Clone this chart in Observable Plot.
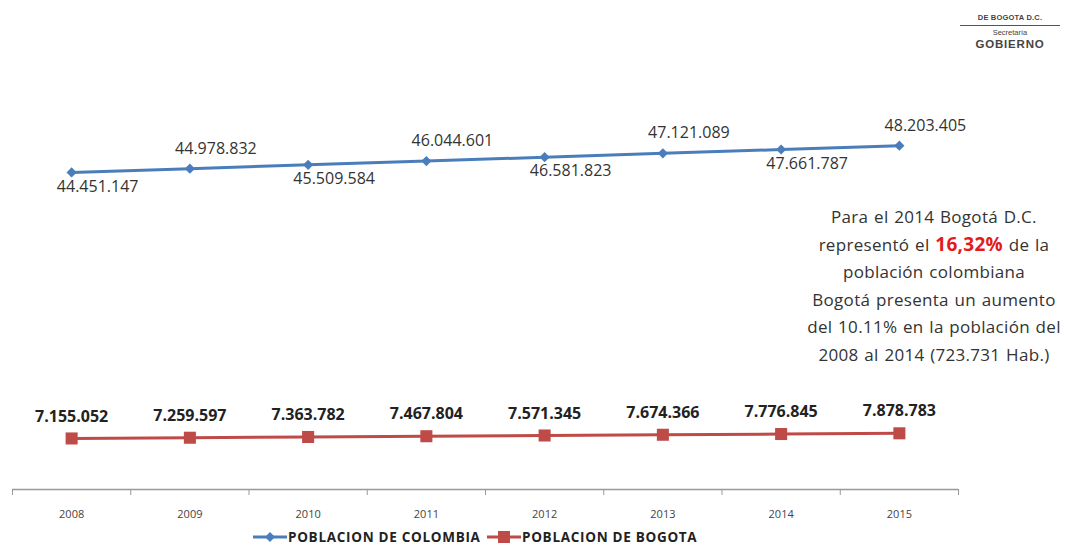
<!DOCTYPE html>
<html><head><meta charset="utf-8">
<script src="https://cdn.jsdelivr.net/npm/d3@7"></script>
<script src="https://cdn.jsdelivr.net/npm/@observablehq/plot@0.6"></script>
<style>
body{margin:0;background:#fff;font-family:Lato,"Open Sans",sans-serif;}
#wrap{position:relative;width:1065px;height:545px;overflow:hidden;}
#logo{position:absolute;left:958px;top:13px;width:104px;text-align:center;color:#444;font-family:"Liberation Sans",sans-serif;}
#note{position:absolute;left:784px;top:203px;width:300px;text-align:center;color:#333;font-size:17px;line-height:27.6px;letter-spacing:0.3px;word-spacing:1px;font-family:"Open Sans",sans-serif;}
#legend{position:absolute;left:0;top:528px;width:1065px;height:17px;font-family:"Open Sans",sans-serif;font-weight:bold;font-size:13.5px;color:#222;letter-spacing:0.7px;}
.lg{position:absolute;top:0;display:flex;align-items:center;white-space:nowrap;}
</style></head><body>
<div id="wrap">
<div id="chart"></div>
<div id="logo">
<div style="font-size:7.5px;font-weight:bold;letter-spacing:0.2px;">DE BOGOTA D.C.</div>
<div style="border-top:1.5px solid #555;margin:3px 2px 2px 2px;"></div>
<div style="font-size:7.5px;">Secretaría</div>
<div style="font-size:11.5px;font-weight:bold;letter-spacing:0.8px;margin-top:1px;">GOBIERNO</div>
</div>
<div id="note">Para el 2014 Bogotá D.C.<br>representó el <span style="color:#e31b1b;font-weight:bold;font-size:19px;">16,32%</span> de la<br>población colombiana<br>Bogotá presenta un aumento<br>del 10.11% en la población del<br>2008 al 2014 (723.731 Hab.)</div>
<div id="legend"></div>
</div>
<script>
const years = [2008, 2009, 2010, 2011, 2012, 2013, 2014, 2015];
const colombia = [44451147, 44978832, 45509584, 46044601, 46581823, 47121089, 47661787, 48203405];
const bogota = [7155052, 7259597, 7363782, 7467804, 7571345, 7674366, 7776845, 7878783];
const seriesNames = ["POBLACION DE COLOMBIA", "POBLACION DE BOGOTA"];
const colors = ["#4a7ebb", "#be4b48"];

const fmt = d3.formatLocale({decimal: ",", thousands: ".", grouping: [3], currency: ["", ""]}).format(",d");
const colData = years.map((y, i) => ({year: y, v: colombia[i], i}));
const bogData = years.map((y, i) => ({year: y, v: bogota[i], i}));
const bounds = d3.range(years.length + 1).map(k => years[0] - 0.5 + k);

const chart = Plot.plot({
  width: 1065, height: 545,
  marginLeft: 12, marginRight: 107, marginTop: 61, marginBottom: 56,
  x: {type: "linear", domain: [years[0] - 0.5, years[years.length - 1] + 0.5]},
  y: {domain: [0, 60000000], axis: null},
  marks: [
    Plot.axisX({ticks: bounds, tickSize: 6, tickFormat: () => "", stroke: "#999", label: null}),
    Plot.axisX({ticks: years, tickSize: 0, tickPadding: 21, tickFormat: d => String(d), fontSize: 11, fill: "#444", fontFamily: "Open Sans", label: null}),
    Plot.ruleY([0], {stroke: "#999", strokeWidth: 1.3}),
    Plot.line(colData, {x: "year", y: "v", stroke: colors[0], strokeWidth: 3}),
    Plot.dot(colData, {x: "year", y: "v", symbol: "diamond2", r: 4.6, fill: colors[0], stroke: null}),
    Plot.line(bogData, {x: "year", y: "v", stroke: colors[1], strokeWidth: 3}),
    Plot.dot(bogData, {x: "year", y: "v", symbol: "square", r: 6.8, fill: colors[1], stroke: null}),
    Plot.text(colData.filter(d => d.i % 2 === 0), {x: "year", y: "v", text: d => fmt(d.v), dy: 14, dx: 26, fontSize: 16, fill: "#333", fontFamily: "Open Sans"}),
    Plot.text(colData.filter(d => d.i % 2 === 1), {x: "year", y: "v", text: d => fmt(d.v), dy: -20, dx: 26, fontSize: 16, fill: "#333", fontFamily: "Open Sans"}),
    Plot.text(bogData, {x: "year", y: "v", text: d => fmt(d.v), dy: -22, fontSize: 16, fontWeight: "bold", fill: "#222", fontFamily: "Open Sans"})
  ]
});
document.getElementById("chart").appendChild(chart);

// legend
const lg = document.getElementById("legend");
const legendX = [253, 487];
seriesNames.forEach((name, k) => {
  const item = document.createElement("div");
  item.className = "lg";
  item.style.left = legendX[k] + "px";
  const sym = k === 0
    ? `<svg width="34" height="14"><line x1="0" y1="7" x2="34" y2="7" stroke="${colors[0]}" stroke-width="3"/><path d="M17,2 L22,7 L17,12 L12,7Z" fill="${colors[0]}"/></svg>`
    : `<svg width="34" height="14"><line x1="0" y1="7" x2="34" y2="7" stroke="${colors[1]}" stroke-width="3"/><rect x="11" y="1" width="12" height="12" fill="${colors[1]}"/></svg>`;
  item.innerHTML = sym + `<span style="margin-left:1px">${name}</span>`;
  lg.appendChild(item);
});
</script>
</body></html>
